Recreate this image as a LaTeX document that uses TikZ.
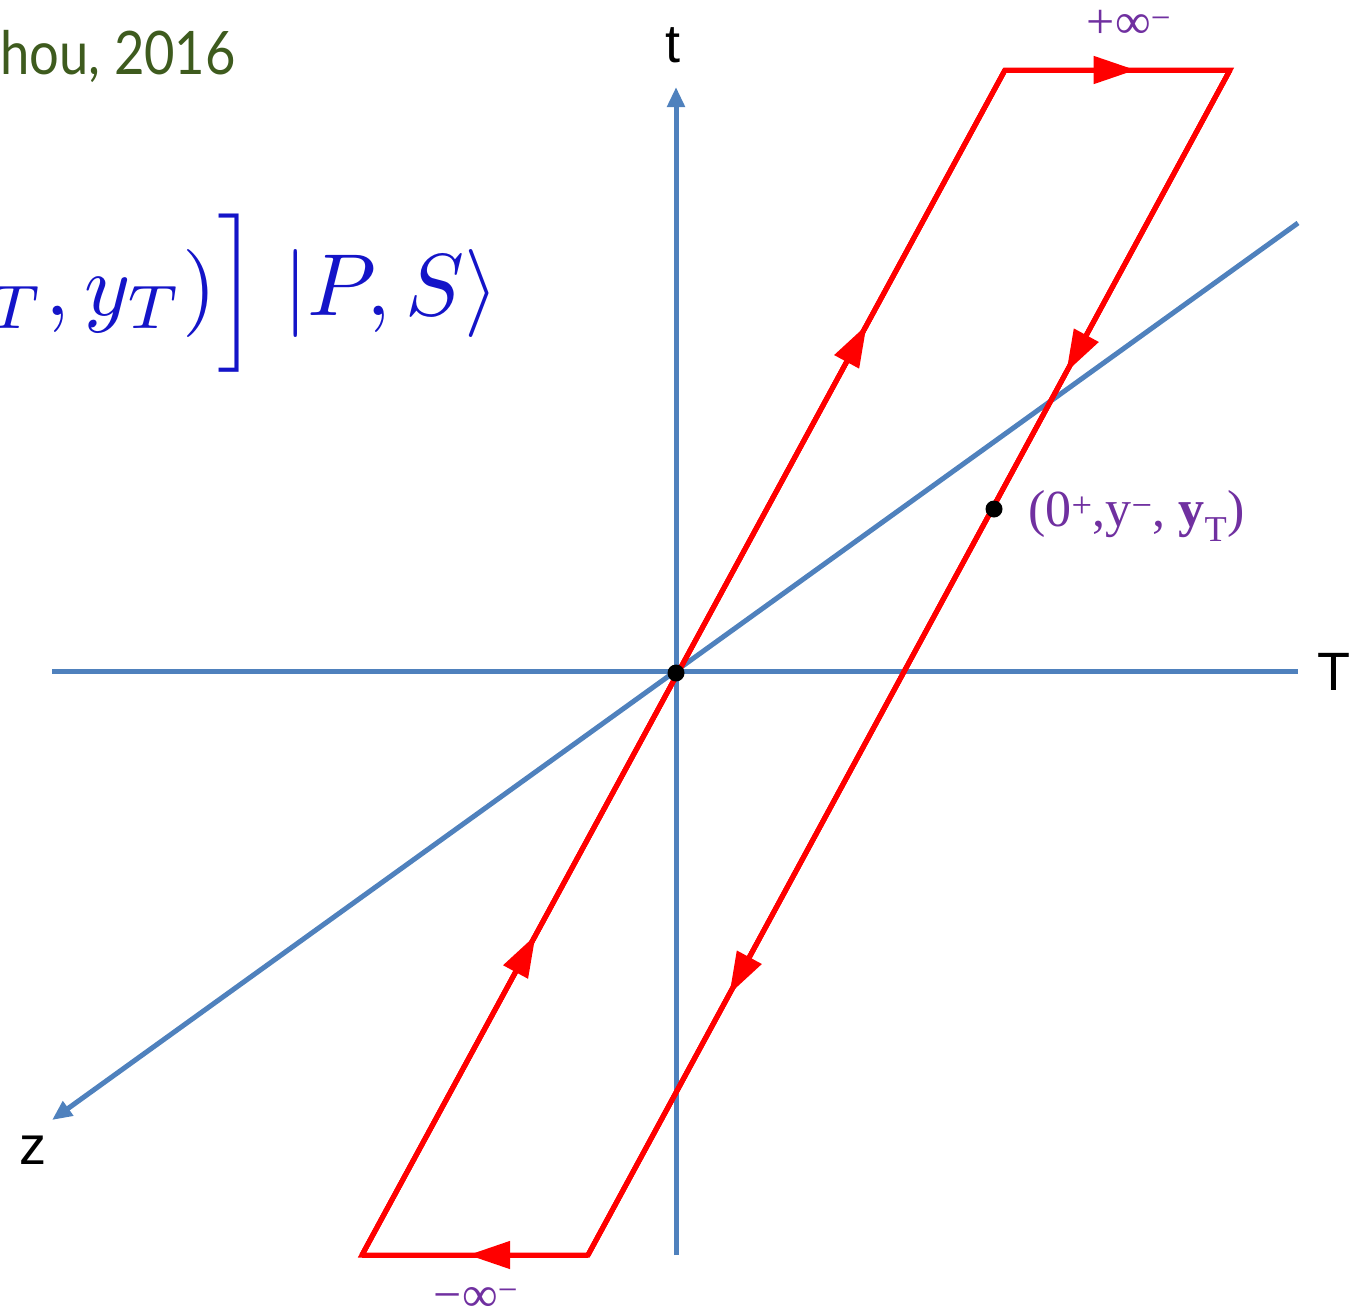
\documentclass[tikz,border=0pt]{standalone}
\usepackage{fontspec}
\usetikzlibrary{arrows.meta,decorations.markings}
\newfontfamily\arialf{Liberation Sans}
\newfontfamily\timesf{Liberation Serif}
\newfontfamily\gillf{Lato}
\definecolor{axisblue}{HTML}{4F81BD}
\definecolor{contred}{HTML}{FF0000}
\definecolor{labpurple}{HTML}{7030A0}
\definecolor{refgreen}{HTML}{3E5B1E}
\definecolor{formblue}{HTML}{1414C8}
\tikzset{
  axis/.style={draw=axisblue, line width=5pt},
  axisarrow/.style={axis, -{Triangle[length=20pt,width=17pt]}},
  contour/.style={draw=contred, line width=5pt, line join=miter},
  redtip/.style={decoration={markings, mark=at position #1 with {\arrow{Triangle[length=42pt,width=27pt]}}}, postaction={decorate}},
  dot/.style={circle, fill=black, inner sep=0pt, minimum size=17pt},
  axlabel/.style={font=\arialf\fontsize{54}{64}\selectfont, text=black, inner sep=0pt},
  purplelab/.style={font=\timesf\fontsize{52}{60}\selectfont, text=labpurple, inner sep=0pt},
  inflab/.style={font=\timesf\fontsize{50}{58}\selectfont, text=labpurple, inner sep=0pt}
}
\begin{document}
\begin{tikzpicture}[x=1pt,y=-1pt]
\useasboundingbox (0,0) rectangle (1367,1315);
\begin{scope}
\clip (0,0) rectangle (1367,1315);
% header and formula fragments
\node[font=\gillf\fontsize{60}{70}\selectfont, text=refgreen, anchor=base east, inner sep=0pt, xscale=0.875, transform shape] (ref) at (236,74) {Zhou, 2016};
\node[text=formblue, anchor=base west, inner sep=0pt, scale=8.8, transform shape] (form) at (-12,315) {${}_T, y_T)\Big]\;|P,S\rangle$};
% coordinates
\coordinate (O) at (676,673);
\coordinate (tTop) at (676,87);
\coordinate (tBot) at (676,1255);
\coordinate (TL) at (52,671);
\coordinate (TR) at (1298,671);
\coordinate (zTop) at (1298,223);
\coordinate (zEnd) at (52,1120);
\coordinate (A) at (362,1255);
\coordinate (B) at (1005,70);
\coordinate (C) at (1230,70);
\coordinate (D) at (588,1255);
% axes
\draw[axisarrow] (tBot) -- (tTop);
\draw[axis] (TL) -- (TR);
\draw[axisarrow] (zTop) -- (zEnd);
% contour
\draw[contour] (A) -- (B) -- (C) -- (D) -- cycle;
\draw[contour, redtip=0.27] (A) -- (B);
\draw[contour, redtip=0.785] (A) -- (B);
\draw[contour, redtip=0.58] (B) -- (C);
\draw[contour, redtip=0.255] (C) -- (D);
\draw[contour, redtip=0.78] (C) -- (D);
\draw[contour, redtip=0.53] (D) -- (A);
% dots
\node[dot] (origin) at (O) {};
\node[dot] (ypt) at (994,509) {};
% labels
\node[axlabel] (tlab) at (673,45) {t};
\node[axlabel] (Tlab) at (1334,672) {T};
\node[axlabel] (zlab) at (33,1150) {z};
\node[inflab] (pinf) at (1129,24) {+∞\textsuperscript{−}};
\node[inflab] (minf) at (476,1299) {−∞\textsuperscript{−}};
\node[purplelab, anchor=west] (ylab) at (1028,516) {(0\textsuperscript{+},y\textsuperscript{−}, \textbf{y}\textsubscript{T})};
\end{scope}
\end{tikzpicture}
\end{document}
